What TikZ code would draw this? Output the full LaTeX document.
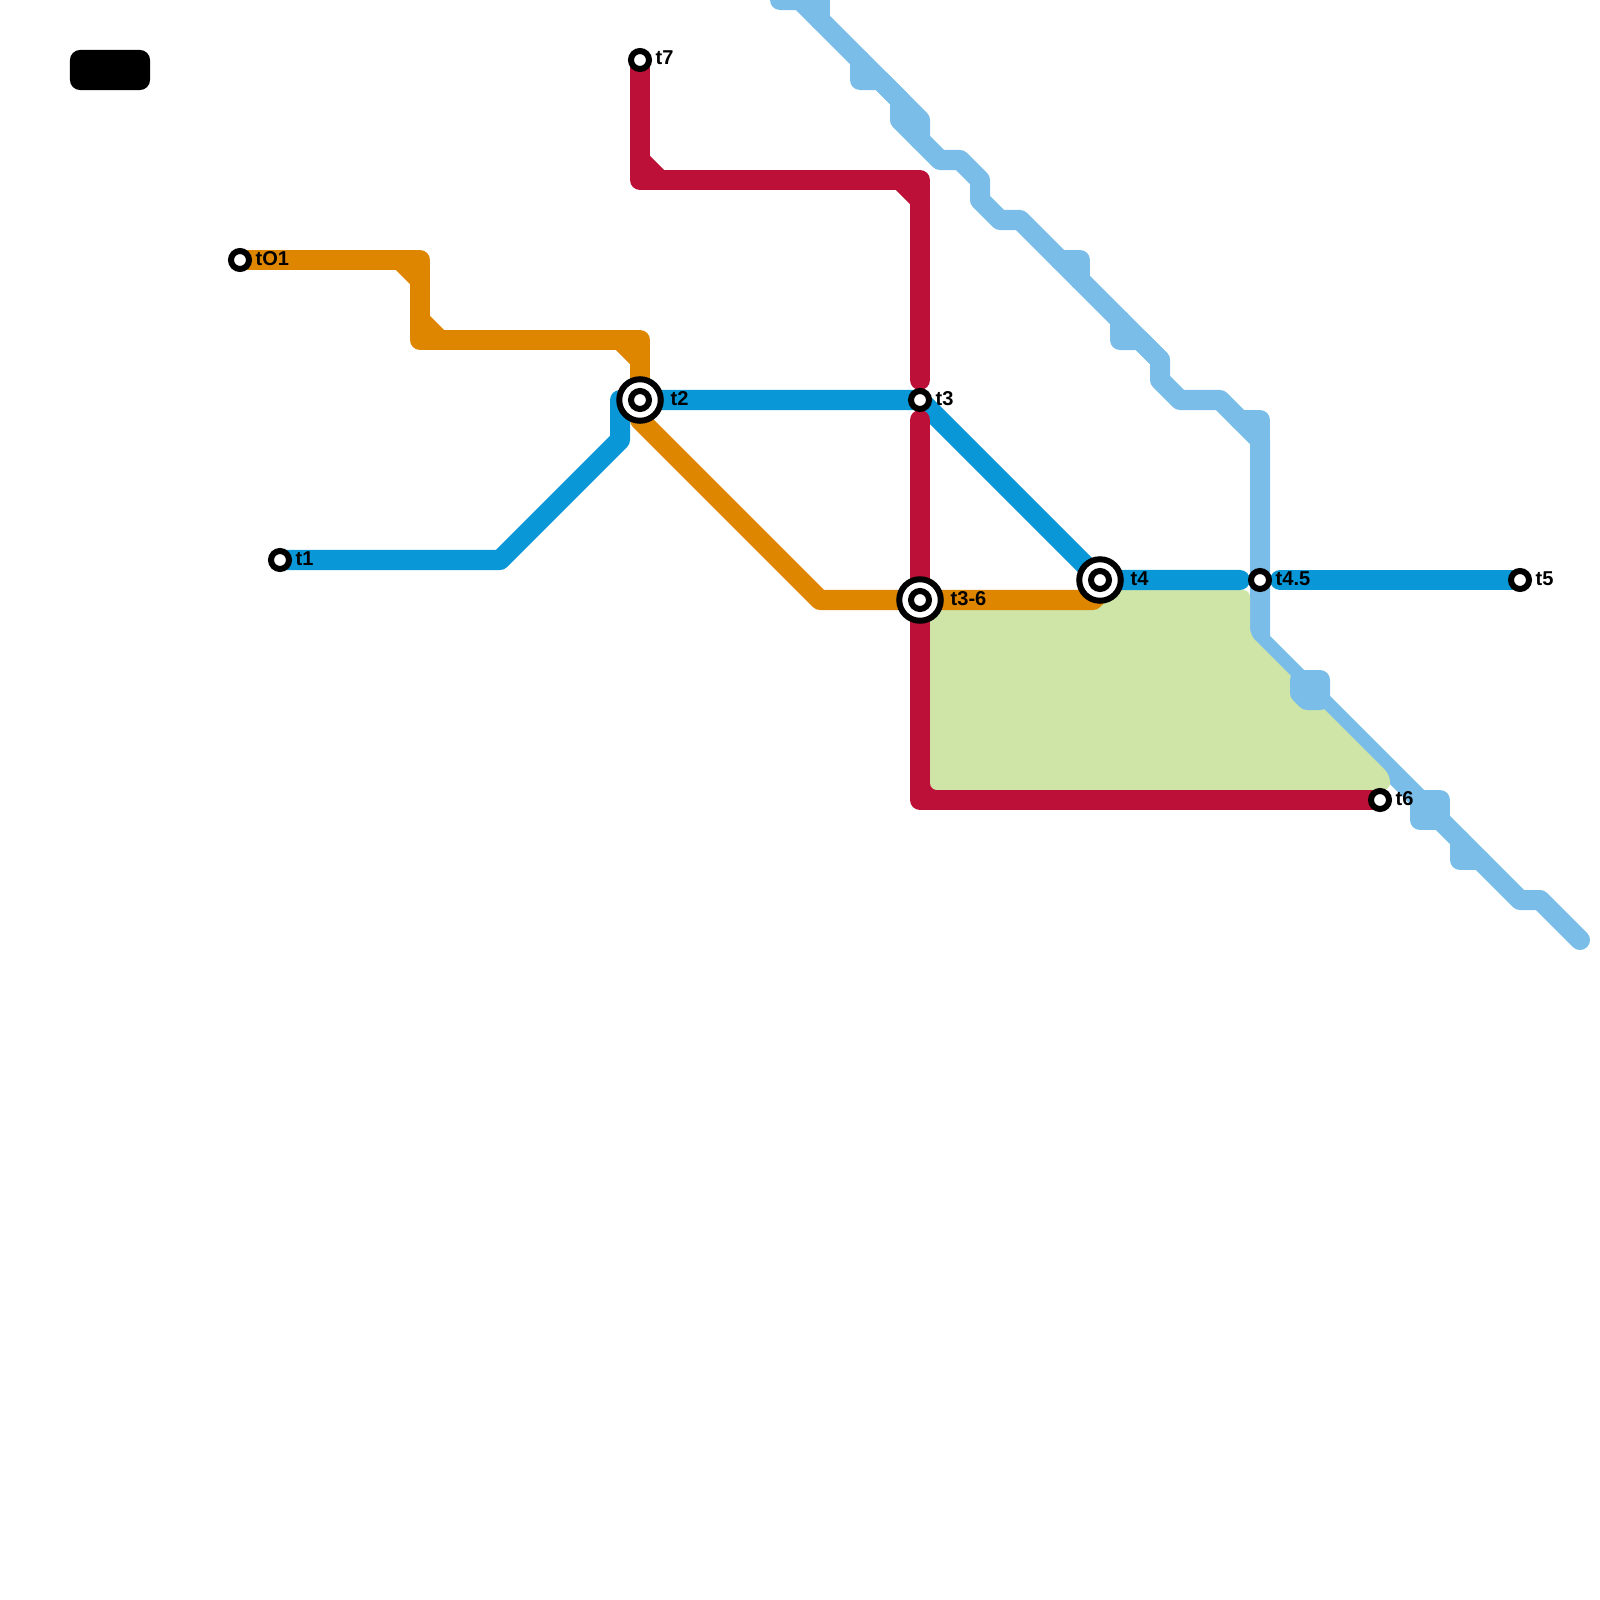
\documentclass[tikz,border=0pt]{standalone}
\usepackage{fontspec}
\setmainfont{Liberation Sans}
\definecolor{lineblue}{HTML}{0997D8}
\definecolor{linesky}{HTML}{7ABDE9}
\definecolor{linered}{HTML}{BD1038}
\definecolor{lineorange}{HTML}{DF8600}
\definecolor{parkgreen}{HTML}{CFE4A7}
\tikzset{
    route/.style={line width=0.2cm, line cap=round, line join=round},
    stn/.style={circle, draw=black, fill=white, line width=0.06cm, minimum size=0.18cm, inner sep=0pt},
    hubring/.style={circle, draw=black, fill=white, line width=0.06cm, minimum size=0.415cm, inner sep=0pt},
    lbl/.style={anchor=base west, inner sep=0pt, font=\bfseries\fontsize{5.7}{6}\selectfont}
}

\begin{document}
\begin{tikzpicture}[x=0.01cm, y=-0.01cm]
    \useasboundingbox (0,0) rectangle (1600,1600);
    \coordinate (pO) at (240,260);
    \coordinate (p1) at (280,560);
    \coordinate (p2) at (640,400);
    \coordinate (p3) at (920,400);
    \coordinate (p36) at (920,600);
    \coordinate (p4) at (1100,580);
    \coordinate (p45) at (1260,580);
    \coordinate (p5) at (1520,580);
    \coordinate (p6) at (1380,800);
    \coordinate (p7) at (640,60);

    % river
    \draw[route, linesky] (780,0) -- (800,0) -- (920,120) -- (920,140) -- (940,160) -- (960,160)
        -- (980,180) -- (980,200) -- (1000,220) -- (1020,220) -- (1160,360) -- (1160,380)
        -- (1180,400) -- (1220,400) -- (1260,440) -- (1260,640) -- (1520,900) -- (1540,900) -- (1580,940);
    \draw[route, linesky] (800,0) -- (820,0) -- (820,20);
    \draw[route, linesky] (860,60) -- (860,80) -- (880,80) -- (900,100) -- (900,120) -- (920,140);
    \draw[route, linesky] (1060,260) -- (1080,260) -- (1080,280);
    \draw[route, linesky] (1120,320) -- (1120,340) -- (1140,340) -- (1160,360);
    \draw[route, linesky] (1240,420) -- (1260,420) -- (1260,440);
    \draw[route, linesky] (1420,800) -- (1440,800) -- (1440,820) -- (1420,820) -- cycle;
    \draw[route, linesky] (1460,840) -- (1460,860) -- (1480,860);

    % park
    \fill[linered] (925,775) rectangle (945,795);
    \fill[parkgreen, rounded corners=0.07cm] (930,590) -- (1250,590) -- (1250,635) -- (1390,775)
        -- (1390,790) -- (930,790) -- cycle;
    \draw[route, linesky, fill=linesky] (1300,680) -- (1320,680) -- (1320,700) -- (1307,700) -- (1300,693) -- cycle;

    % lines
    \draw[route, lineorange] (pO) -- (420,260) -- (420,340) -- (640,340) -- (p2);
    \draw[route, lineorange] (400,260) -- (420,280);
    \draw[route, lineorange] (420,320) -- (440,340);
    \draw[route, lineorange] (620,340) -- (640,360);
    \draw[route, lineorange] (640,420) -- (820,600) -- (1093,600) -- (1100,593) -- (p4);
    \draw[route, lineblue] (p1) -- (500,560) -- (620,440) -- (620,400) -- (p3) -- (p4) -- (1240,580);
    \draw[route, lineblue] (1280,580) -- (p5);
    \draw[route, linered] (p7) -- (640,180) -- (920,180) -- (920,380);
    \draw[route, linered] (640,160) -- (660,180);
    \draw[route, linered] (900,180) -- (920,200);
    \draw[route, linered] (920,420) -- (920,800) -- (p6);

    % stations
    \node[stn] (stO) at (pO) {};
    \node[stn] (st1) at (p1) {};
    \node[hubring] (hub2) at (p2) {};
    \node[stn] (st2) at (p2) {};
    \node[stn] (st3) at (p3) {};
    \node[hubring] (hub36) at (p36) {};
    \node[stn] (st36) at (p36) {};
    \node[hubring] (hub4) at (p4) {};
    \node[stn] (st4) at (p4) {};
    \node[stn] (st45) at (p45) {};
    \node[stn] (st5) at (p5) {};
    \node[stn] (st6) at (p6) {};
    \node[stn] (st7) at (p7) {};

    \node[lbl] (lblO) at (255,265) {tO1};
    \node[lbl] (lbl1) at (295,565) {t1};
    \node[lbl] (lbl2) at (670,405) {t2};
    \node[lbl] (lbl3) at (935,405) {t3};
    \node[lbl] (lbl36) at (950,605) {t3-6};
    \node[lbl] (lbl4) at (1130,585) {t4};
    \node[lbl] (lbl45) at (1275,585) {t4.5};
    \node[lbl] (lbl5) at (1535,585) {t5};
    \node[lbl] (lbl6) at (1395,805) {t6};
    \node[lbl] (lbl7) at (655,65) {t7};

    \node[fill=black, rounded corners=0.1cm, minimum width=0.8cm, minimum height=0.4cm, inner sep=0pt] (tag) at (110,70) {};
\end{tikzpicture}
\end{document}
